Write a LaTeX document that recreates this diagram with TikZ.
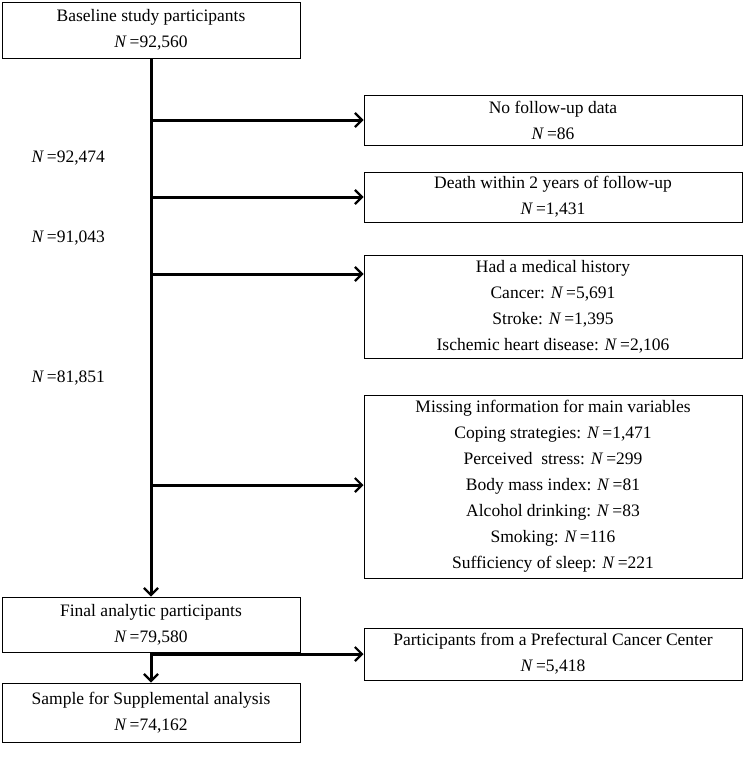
\documentclass[tikz,border=0pt]{standalone}
\usepackage{fontspec}
\setmainfont{Liberation Serif}
\usetikzlibrary{arrows.meta,positioning}
\newcommand{\cnt}{\textit{N}\,=}
\tikzset{
  box/.style={rectangle, draw, line width=1pt, align=center, inner sep=0pt,
    font=\fontsize{17.5}{26}\selectfont},
  flow/.style={line width=3pt, -{Straight Barb[length=7pt,width=14pt,line width=2.2pt]}},
  count/.style={anchor=west, font=\fontsize{17.5}{20}\selectfont}
}
\begin{document}
\begin{tikzpicture}[x=1pt,y=-1pt]
\useasboundingbox (0,0) rectangle (743,771);
% left column
\node[box, minimum width=298, minimum height=56] (base) at (151,30) {Baseline study participants\\\cnt92,560};
\node[box, minimum width=298, minimum height=55] (final) at (151,624.5) {Final analytic participants\\\cnt79,580};
\node[box, minimum width=298, minimum height=59] (sample) at (151,712.5) {Sample for Supplemental analysis\\\cnt74,162};
% right column
\node[box, minimum width=378, minimum height=50] (nofollow) at (553,120) {No follow-up data\\\cnt86};
\node[box, minimum width=378, minimum height=50] (death) at (553,197) {Death within 2 years of follow-up\\\cnt1,431};
\node[box, minimum width=378, minimum height=103] (history) at (553,306.5) {Had a medical history\\Cancer: \cnt5,691\\Stroke: \cnt1,395\\Ischemic heart disease: \cnt2,106};
\node[box, minimum width=378, minimum height=183] (missing) at (553,486.5) {Missing information for main variables\\Coping strategies: \cnt1,471\\Perceived\ \ stress: \cnt299\\Body mass index: \cnt81\\Alcohol drinking: \cnt83\\Smoking: \cnt116\\Sufficiency of sleep: \cnt221};
\node[box, minimum width=378, minimum height=52] (cancer) at (553,654) {Participants from a Prefectural Cancer Center\\\cnt5,418};
% remaining counts
\node[count] (n1) at (28,158) {\cnt92,474};
\node[count] (n2) at (28,238) {\cnt91,043};
\node[count] (n3) at (28,378) {\cnt81,851};
% connectors
\coordinate (b1) at (base.south |- nofollow.west);
\coordinate (b2) at (base.south |- death.west);
\coordinate (b3) at (base.south |- 0,274);
\coordinate (b4) at (base.south |- 0,485);
\coordinate (b5) at (final.south |- cancer.west);
\draw[flow] (base.south) -- (final.north);
\draw[flow] (b1) -- (nofollow.west);
\draw[flow] (b2) -- (death.west);
\draw[flow] (b3) -- (b3 -| history.west);
\draw[flow] (b4) -- (b4 -| missing.west);
\draw[flow] (final.south) -- (sample.north);
\draw[flow] (b5) -- (cancer.west);
\end{tikzpicture}
\end{document}
